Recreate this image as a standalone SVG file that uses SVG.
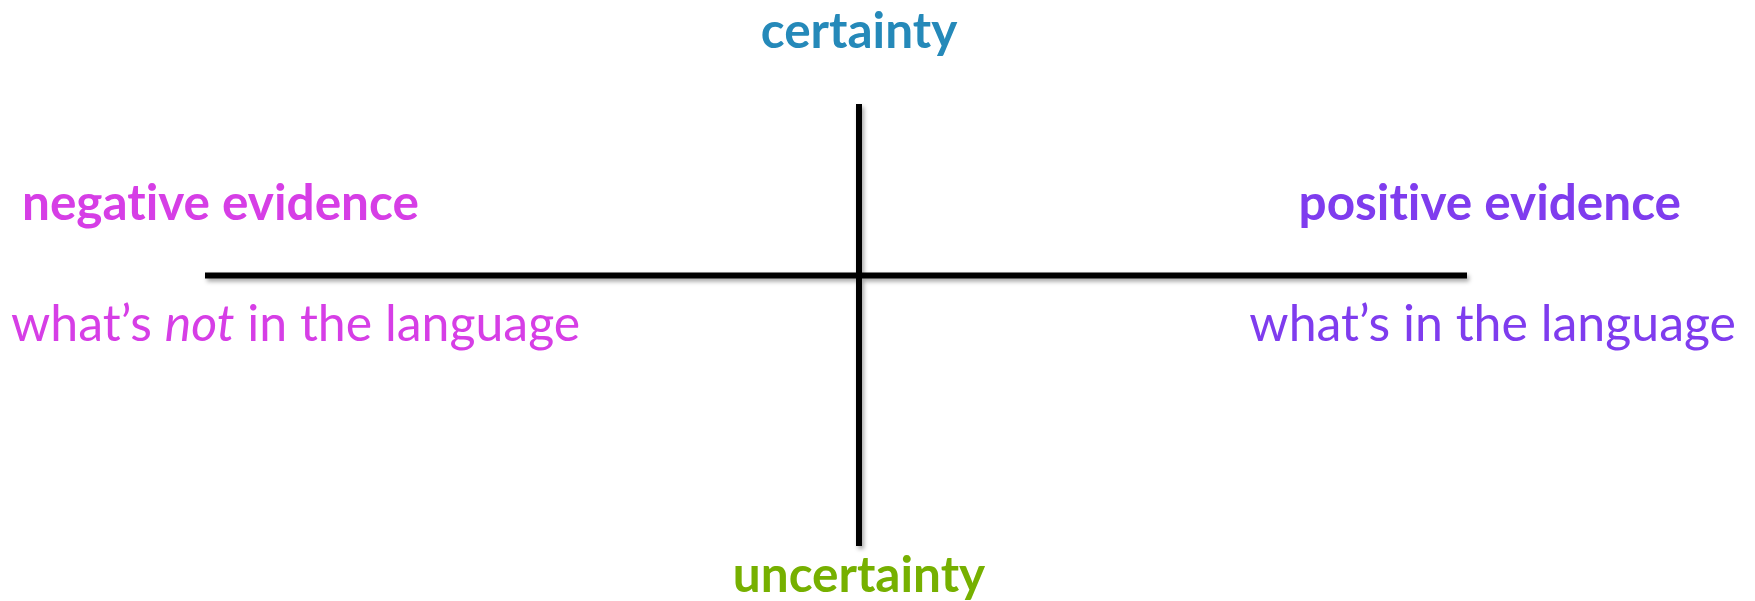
<svg xmlns="http://www.w3.org/2000/svg" width="1755" height="601" viewBox="0 0 1755 601">
<defs>
<filter id="sh" x="-5%" y="-50%" width="110%" height="200%">
<feDropShadow dx="2" dy="3" stdDeviation="2" flood-color="#000" flood-opacity="0.35"/>
</filter>
</defs>
<style>
text{font-family:Lato,"Open Sans","Liberation Sans",sans-serif;font-variant-ligatures:none}
.b{font-weight:bold;font-size:49.5px}
.r{font-size:50px}
.neg{fill:#d63ee6}
.pos{fill:#7f3cee}
.axis{stroke:#000;stroke-width:6;fill:none}
</style>
<rect width="1755" height="601" fill="#fff"/>
<g id="connectors" filter="url(#sh)">
<line class="axis" x1="205" y1="275.5" x2="1467" y2="275.5"/>
<line class="axis" x1="859" y1="104" x2="859" y2="546"/>
</g>
<g id="certainty"><text class="b" x="859" y="48" text-anchor="middle" fill="#2589b9">certainty</text></g>
<g id="uncertainty"><text class="b" x="859" y="592" text-anchor="middle" fill="#76b000">uncertainty</text></g>
<g id="negative"><text class="b neg" x="22" y="220">negative evidence</text>
<text class="r neg" x="11" y="341">what’s <tspan font-style="italic">not</tspan> in the language</text></g>
<g id="positive"><text class="b pos" x="1681" y="220" text-anchor="end">positive evidence</text>
<text class="r pos" x="1736" y="341" text-anchor="end">what’s in the language</text></g>
</svg>
